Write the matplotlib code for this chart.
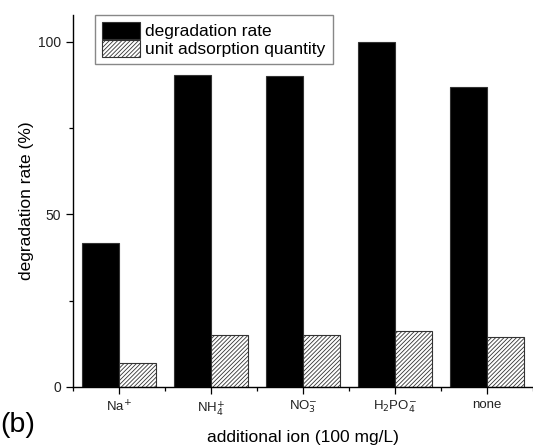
import matplotlib
matplotlib.use('Agg')
import matplotlib.pyplot as plt
import numpy as np
from matplotlib.ticker import MultipleLocator

plt.rcParams['font.family'] = ['Liberation Sans', 'DejaVu Sans']
plt.rcParams['hatch.color'] = '#666666'
plt.rcParams['hatch.linewidth'] = 0.6

# Data
ions = ['Na$^{+}$', 'NH$_4^{+}$', 'NO$_3^{-}$', 'H$_2$PO$_4^{-}$', 'none']
degradation = [41.8, 90.3, 90.0, 100.0, 87.0]
adsorption = [7.0, 15.0, 15.0, 16.3, 14.5]

fig = plt.figure(figsize=(5.33, 4.45), dpi=100)
ax = fig.add_axes([73 / 533, 1 - 387 / 445, 1 - 73 / 533, (387 - 15) / 445])

x = np.arange(len(ions))
w = 0.4
ax.bar(x - w / 2, degradation, width=w, color='black', edgecolor='#333333',
       linewidth=0.8, label='degradation rate')
ax.bar(x + w / 2, adsorption, width=w, color='white', edgecolor='#333333',
       linewidth=0.8, hatch='////////', label='unit adsorption quantity')

ax.set_xlim(-0.5, 4.5)
ax.set_ylim(0, 107.8)
ax.set_xticks(x)
ax.set_xticklabels(ions, fontsize=9.5, color='#222222')
ax.xaxis.set_minor_locator(MultipleLocator(0.5))
ax.set_yticks([0, 50, 100])
ax.yaxis.set_minor_locator(MultipleLocator(25))
ax.tick_params(axis='y', labelsize=10, labelcolor='#222222')
ax.tick_params(which='major', direction='out', length=5, width=0.9)
ax.tick_params(which='minor', direction='out', length=3, width=0.9)

for s in ['top', 'right']:
    ax.spines[s].set_visible(False)
for s in ['left', 'bottom']:
    ax.spines[s].set_linewidth(1.0)

ax.set_xlabel('additional ion (100 mg/L)', fontsize=12.5, labelpad=9)
ax.set_ylabel('degradation rate (%)', fontsize=12.5, labelpad=3)

leg = ax.legend(loc='upper left', bbox_to_anchor=(95 / 533, 1 - 15 / 445),
                bbox_transform=fig.transFigure, borderaxespad=0,
                fontsize=12.5, fancybox=False, framealpha=1,
                edgecolor='#888888', handlelength=2.2, handleheight=1.1,
                labelspacing=0.05, handletextpad=0.3, borderpad=0.4)
leg.get_frame().set_linewidth(1.0)

fig.text(0.0, 1 - 432 / 445, '(b)', fontsize=20.5, ha='left', va='baseline')

fig.savefig('out.png', dpi=100)
